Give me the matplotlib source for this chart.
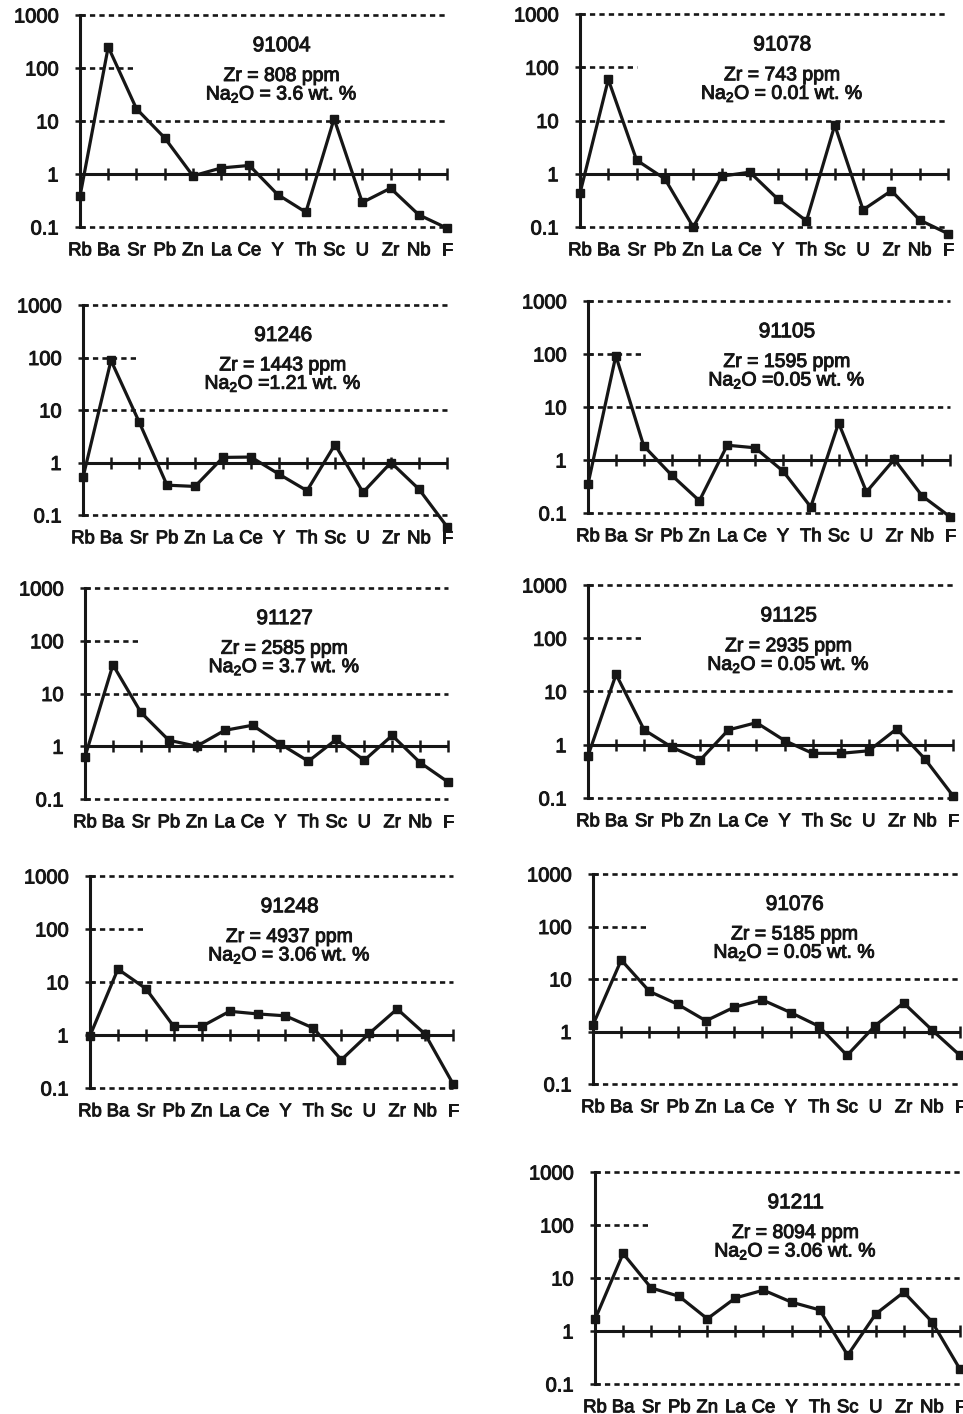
import matplotlib
matplotlib.use("Agg")
import matplotlib.pyplot as plt
import matplotlib.patheffects as pe
from matplotlib.ticker import FixedLocator, FixedFormatter

plt.rcParams['font.family'] = ['Liberation Sans', 'DejaVu Sans']
plt.rcParams['mathtext.fontset'] = 'custom'
plt.rcParams['mathtext.rm'] = 'Liberation Sans'
plt.rcParams['mathtext.it'] = 'Liberation Sans:italic'
plt.rcParams['mathtext.bf'] = 'Liberation Sans:bold'
plt.rcParams['lines.scale_dashes'] = False

elements = ["Rb", "Ba", "Sr", "Pb", "Zn", "La", "Ce", "Y", "Th", "Sc", "U", "Zr", "Nb", "F"]
yticks = [0.1, 1, 10, 100, 1000]
ylabels = ["0.1", "1", "10", "100", "1000"]

samples = ["91004", "91078", "91246", "91105", "91127", "91125", "91248", "91076", "91211"]
zr_ppm = ["808", "743", "1443", "1595", "2585", "2935", "4937", "5185", "8094"]
na2o = [" 3.6", " 0.01", "1.21", "0.05", " 3.7", " 0.05", " 3.06", " 0.05", " 3.06"]

s91004 = [0.38, 250, 17, 4.8, 0.92, 1.3, 1.45, 0.41, 0.19, 11, 0.29, 0.54, 0.17, 0.095]
s91078 = [0.43, 59, 1.8, 0.8, 0.1, 0.9, 1.07, 0.33, 0.13, 8.2, 0.21, 0.48, 0.135, 0.075]
s91246 = [0.52, 88, 6, 0.37, 0.35, 1.25, 1.27, 0.6, 0.29, 2.2, 0.27, 1.0, 0.31, 0.06]
s91105 = [0.35, 93, 1.85, 0.52, 0.17, 1.9, 1.7, 0.62, 0.13, 5.0, 0.25, 1.03, 0.21, 0.085]
s91127 = [0.63, 35, 4.4, 1.3, 1.0, 2.0, 2.5, 1.1, 0.52, 1.35, 0.54, 1.6, 0.49, 0.21]
s91125 = [0.62, 21, 1.9, 0.89, 0.52, 1.9, 2.6, 1.2, 0.69, 0.69, 0.77, 2.0, 0.54, 0.11]
s91248 = [0.97, 17.5, 7.5, 1.45, 1.45, 2.8, 2.5, 2.3, 1.35, 0.34, 1.07, 3.1, 1.04, 0.12]
s91076 = [1.34, 23, 5.8, 3.3, 1.6, 2.9, 4.0, 2.3, 1.26, 0.35, 1.3, 3.5, 1.08, 0.35]
s91211 = [1.65, 29, 6.5, 4.5, 1.7, 4.2, 5.9, 3.5, 2.5, 0.35, 2.1, 5.4, 1.5, 0.19]
values = [s91004, s91078, s91246, s91105, s91127, s91125, s91248, s91076, s91211]

# panel boxes in pixels: left spine x, right end x, top (1000) y, bottom (0.1) y
boxes = [
    (80, 447, 15, 227),
    (580, 948, 14, 227),
    (83, 447, 305, 515),
    (588, 950, 301, 513),
    (85, 448, 588, 799),
    (588, 953, 585, 798),
    (90, 453, 876, 1088),
    (593, 960, 874, 1084),
    (595, 960, 1172, 1384),
]

W, H = 963, 1414
fig = plt.figure(figsize=(W / 100, H / 100), dpi=100)

dash = (0, (3.8, 3.0))
x = list(range(len(elements)))
ink = '#161616'
heavy = [pe.withStroke(linewidth=0.7, foreground=ink)]

for i in range(len(samples)):
    x0, x1, yt, yb = boxes[i]
    ax = fig.add_axes([x0 / W, 1 - yb / H, (x1 - x0) / W, (yb - yt) / H])
    ax.set_yscale('log')
    ax.set_xlim(0, len(elements) - 1)
    ax.set_ylim(0.1, 1000)
    ax.patch.set_visible(False)

    for s in ['top', 'right', 'bottom']:
        ax.spines[s].set_visible(False)
    ax.spines['left'].set_linewidth(2.2)
    ax.spines['left'].set_color(ink)
    ax.spines['left'].set_zorder(5)

    ax.yaxis.set_major_locator(FixedLocator(yticks))
    ax.yaxis.set_major_formatter(FixedFormatter(ylabels))
    ax.yaxis.set_minor_locator(FixedLocator([]))
    ax.tick_params(axis='y', direction='inout', length=7, width=1.8, color=ink,
                   pad=12, labelsize=14.5, labelcolor=ink)

    ax.set_xticks(x)
    ax.set_xticklabels(elements)
    ax.tick_params(axis='x', length=0, pad=11, labelsize=13.3, labelcolor=ink)
    for lab in ax.get_xticklabels() + ax.get_yticklabels():
        lab.set_path_effects(heavy)

    # reference lines
    for lvl in [1000, 10, 0.1]:
        ax.hlines(lvl, 0, len(elements) - 1, colors=ink, lw=1.9, linestyles=[dash], clip_on=False)
    ax.hlines(100, 0, 2, colors=ink, lw=1.9, linestyles=[dash], clip_on=False)
    ax.hlines(1, 0, len(elements) - 1, colors=ink, lw=2.2, clip_on=False)
    ax.plot(x, [1] * len(x), ls='none', marker='|', ms=9, mew=1.8, color=ink, clip_on=False)

    # data
    ax.plot(x, values[i], color=ink, lw=2.3, marker='s', ms=5.5,
            mfc=ink, mec=ink, clip_on=False, zorder=6)

    ax.text(0.55, 0.855, samples[i], transform=ax.transAxes, ha='center', va='center',
            fontsize=15, color=ink, path_effects=heavy)
    ax.text(0.55, 0.71, "Zr = " + zr_ppm[i] + " ppm", transform=ax.transAxes,
            ha='center', va='center', fontsize=14, color=ink, path_effects=heavy)
    ax.text(0.55, 0.625, r"Na$_\mathrm{2}$O =" + na2o[i] + " wt. %", transform=ax.transAxes,
            ha='center', va='center', fontsize=14, color=ink, path_effects=heavy)

fig.savefig("out.png", dpi=100)
